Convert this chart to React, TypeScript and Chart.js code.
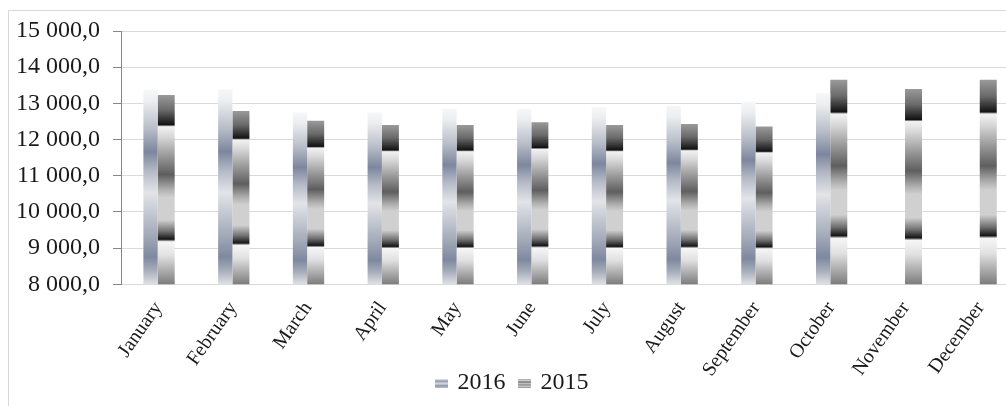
import React, { useEffect, useRef } from "react";
import { Chart, registerables } from "chart.js";

Chart.register(...registerables);

// ---- data ----
const categories = [
  "January", "February", "March", "April", "May", "June",
  "July", "August", "September", "October", "November", "December",
];
const seriesNames = ["2016", "2015"];
const values2016: (number | null)[] = [13380, 13390, 12750, 12750, 12850, 12850, 12890, 12930, 13050, 13280, null, null];
const values2015: (number | null)[] = [13230, 12790, 12520, 12400, 12400, 12480, 12400, 12430, 12360, 13650, 13400, 13650];
const yMin = 8000;
const yMax = 15000;
const yStep = 1000;

// ---- styles ----
const FONT = "'Liberation Serif', 'Times New Roman', serif";
const TEXT = "#1a1a1a";

const STOPS_2016: [number, string][] = [
  [0.0, "#f7f7f8"], [0.06, "#eceef0"], [0.2, "#b8bdc8"], [0.32, "#7c869e"],
  [0.42, "#b5bac6"], [0.53, "#e2e4e8"], [0.62, "#c8ccd4"], [0.75, "#a2a9b8"],
  [0.86, "#7e889f"], [0.93, "#a8aebb"], [1.0, "#dfe1e5"],
];
const STOPS_2015: [number, string][] = [
  [0.0, "#9a9a9a"], [0.08, "#6a6a6a"], [0.145, "#202020"], [0.157, "#111111"],
  [0.167, "#f2f2f2"], [0.22, "#d8d8d8"], [0.32, "#9a9a9a"], [0.42, "#5e5e5e"],
  [0.5, "#b0b0b0"], [0.54, "#d0d0d0"], [0.66, "#d0d0d0"], [0.72, "#707070"],
  [0.762, "#151515"], [0.775, "#f6f6f6"], [0.85, "#e0e0e0"], [1.0, "#7c7c7c"],
];

function fmt(v: number): string {
  const s = Math.round(v).toString().replace(/\B(?=(\d{3})+(?!\d))/g, " ");
  return s + ",0";
}

function barGradient(stops: [number, string][], fallback: string) {
  return (ctx: any) => {
    const chart = ctx.chart;
    const y = chart && chart.scales ? chart.scales.y : null;
    const v = ctx.raw;
    if (!y || v == null || ctx.type !== "data") return fallback;
    const top = y.getPixelForValue(v);
    const bottom = y.bottom;
    if (!isFinite(top) || !isFinite(bottom) || bottom - top < 1) return fallback;
    const g = chart.ctx.createLinearGradient(0, top, 0, bottom);
    stops.forEach(([o, c]) => g.addColorStop(o, c));
    return g;
  };
}

function legendImage(stops: [number, string][], w: number, h: number) {
  const c = document.createElement("canvas");
  c.width = w;
  c.height = h;
  const x = c.getContext("2d")!;
  const g = x.createLinearGradient(0, 0, 0, h);
  stops.forEach(([o, col]) => g.addColorStop(o, col));
  x.fillStyle = g;
  x.fillRect(0, 0, w, h);
  return c;
}

const borderPlugin = {
  id: "outerBorder",
  beforeDraw(chart: any) {
    const c = chart.ctx;
    c.save();
    c.strokeStyle = "#d9d9d9";
    c.lineWidth = 1;
    c.strokeRect(8.5, 10.5, 3000, 3000);
    c.restore();
  },
};

export default function App() {
  const ref = useRef<HTMLCanvasElement>(null);

  useEffect(() => {
    if (!ref.current) return;
    const imgs = [legendImage(STOPS_2016, 13, 9), legendImage(STOPS_2015, 13, 9)];
    const chart = new Chart(ref.current, {
      type: "bar",
      data: {
        labels: categories,
        datasets: [
          {
            label: seriesNames[0],
            data: values2016,
            backgroundColor: barGradient(STOPS_2016, "#a0a7b8"),
            borderWidth: 0,
            categoryPercentage: 0.419,
            barPercentage: 0.914,
          },
          {
            label: seriesNames[1],
            data: values2015,
            backgroundColor: barGradient(STOPS_2015, "#999999"),
            borderWidth: 0,
            categoryPercentage: 0.419,
            barPercentage: 1.086,
          },
        ],
      },
      options: {
        responsive: false,
        animation: false,
        events: [],
        layout: { padding: { left: 9, right: 22.2, top: 31, bottom: 15 } },
        plugins: {
          tooltip: { enabled: false },
          legend: {
            position: "bottom",
            labels: {
              usePointStyle: true,
              pointStyleWidth: 7,
              boxHeight: 9,
              padding: 16,
              color: TEXT,
              font: { family: FONT, size: 24 },
              generateLabels: (ch: any) =>
                ch.data.datasets.map((ds: any, i: number) => ({
                  text: ds.label,
                  pointStyle: imgs[i],
                  fillStyle: "rgba(0,0,0,0)",
                  strokeStyle: "rgba(0,0,0,0)",
                  lineWidth: 0,
                  hidden: false,
                  datasetIndex: i,
                  fontColor: TEXT,
                })),
            },
          },
        },
        scales: {
          x: {
            grid: { display: false },
            border: { color: "#d9d9d9" },
            ticks: {
              autoSkip: false,
              minRotation: 55,
              maxRotation: 55,
              padding: 5,
              color: TEXT,
              font: { family: FONT, size: 20 },
            },
            afterFit: (s: any) => {
              s.height = 70.7;
              s.paddingLeft = 0;
              s.paddingRight = 0;
              s._computeLabelArea = () => undefined;
            },
          },
          y: {
            min: yMin,
            max: yMax,
            ticks: {
              stepSize: yStep,
              padding: 13,
              color: TEXT,
              font: { family: FONT, size: 24 },
              callback: (v: any) => fmt(Number(v)),
            },
            grid: { color: "#d9d9d9", tickLength: 8, tickColor: "#868686" },
            border: { color: "#868686" },
            afterFit: (s: any) => {
              s.width = 112;
              s.paddingTop = 0;
              s.paddingBottom = 0;
            },
          },
        },
      },
      plugins: [borderPlugin],
    } as any);
    return () => chart.destroy();
  }, []);

  return (
    <div style={{ position: "absolute", left: 0, top: 0, width: 1006, height: 406, overflow: "hidden", background: "#fff" }}>
      <canvas ref={ref} width={1040} height={420} style={{ display: "block", width: 1040, height: 420 }} />
    </div>
  );
}
